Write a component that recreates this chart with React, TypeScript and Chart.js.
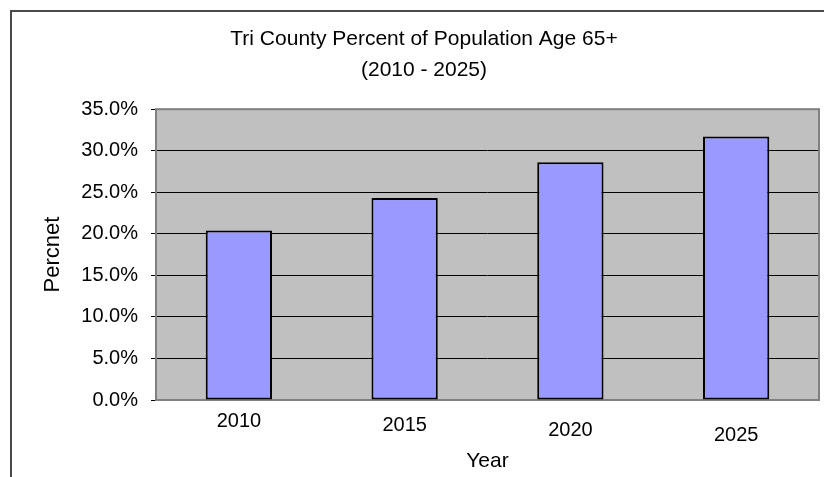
import React, { useEffect, useRef } from 'react';
import { Chart, registerables } from 'chart.js';

Chart.register(...registerables);

const categories = ['2010', '2015', '2020', '2025'];
const percentValues = [20.4, 24.3, 28.6, 31.7];
const yMin = 0;
const yMax = 35;
const yStep = 5;
const titleLines = ['Tri County Percent of Population Age 65+', '(2010 - 2025)'];
const xAxisTitle = 'Year';
const yAxisTitle = 'Percnet';

const FONT = '"Liberation Sans", Arial, sans-serif';
// staggered baseline of the x labels in the original picture
const xLabelLineHeights = [1.2, 1.6, 2.1, 2.6];

const plotFrame = {
  id: 'plotFrame',
  beforeDraw(chart: any) {
    const { ctx, chartArea } = chart;
    const { left, top, width, height } = chartArea;
    ctx.save();
    ctx.fillStyle = '#C0C0C0';
    ctx.fillRect(left, top, width, height);
    ctx.restore();
  },
  beforeDatasetsDraw(chart: any) {
    const { ctx, chartArea } = chart;
    const { left, top, width, height } = chartArea;
    ctx.save();
    ctx.strokeStyle = '#808080';
    ctx.lineWidth = 2;
    ctx.strokeRect(left, top, width, height);
    ctx.restore();
  },
};

export default function App() {
  const ref = useRef<HTMLCanvasElement>(null);

  useEffect(() => {
    if (!ref.current) return;
    const chart = new Chart(ref.current, {
      type: 'bar',
      data: {
        labels: categories,
        datasets: [
          {
            data: percentValues,
            backgroundColor: '#9999FF',
            borderColor: '#000000',
            borderWidth: 2,
            borderSkipped: false,
            barPercentage: 0.4,
            categoryPercentage: 1.0,
          },
        ],
      },
      options: {
        animation: false,
        responsive: false,
        devicePixelRatio: 1,
        layout: { padding: { left: 29, right: 5, top: 0, bottom: 0 } },
        plugins: {
          legend: { display: false },
          tooltip: { enabled: false },
          title: {
            display: true,
            text: titleLines,
            color: '#000000',
            font: { family: FONT, size: 21, weight: 'normal', lineHeight: 1.514 },
            padding: { top: 23, bottom: 22.6 },
          },
        },
        scales: {
          x: {
            grid: { display: false },
            border: { display: false },
            ticks: {
              color: '#000000',
              padding: 1,
              maxRotation: 0,
              font: (ctx: any) => ({
                family: FONT,
                size: 20,
                lineHeight: xLabelLineHeights[ctx.index] ?? 1.2,
              }),
            },
            title: {
              display: true,
              text: xAxisTitle,
              color: '#000000',
              font: { family: FONT, size: 21, lineHeight: 1.2 },
              padding: { top: 0, bottom: 3.4 },
            },
            afterFit: (scale: any) => {
              scale.height = 77;
            },
          },
          y: {
            min: yMin,
            max: yMax,
            grid: {
              color: '#000000',
              lineWidth: 1,
              drawTicks: true,
              tickLength: 5,
              tickColor: '#000000',
            },
            border: { display: false },
            ticks: {
              stepSize: yStep,
              color: '#000000',
              padding: 13,
              font: { family: FONT, size: 20 },
              callback: (v: any) => Number(v).toFixed(1) + '%',
            },
            title: {
              display: true,
              text: yAxisTitle,
              color: '#000000',
              font: { family: FONT, size: 22, lineHeight: 1.2 },
              padding: { top: 10.8, bottom: 0 },
            },
            afterFit: (scale: any) => {
              scale.width = 127;
            },
          },
        },
      },
      plugins: [plotFrame],
    });
    return () => chart.destroy();
  }, []);

  return (
    <div>
      <div
        style={{
          position: 'fixed',
          left: 10,
          top: 10,
          width: 1000,
          height: 1000,
          borderLeft: '2px solid #4a4a4a',
          borderTop: '2px solid #4a4a4a',
          pointerEvents: 'none',
        }}
      />
      <canvas
        ref={ref}
        width={824}
        height={477}
        style={{ position: 'fixed', left: 0, top: 0, display: 'block' }}
      />
    </div>
  );
}
